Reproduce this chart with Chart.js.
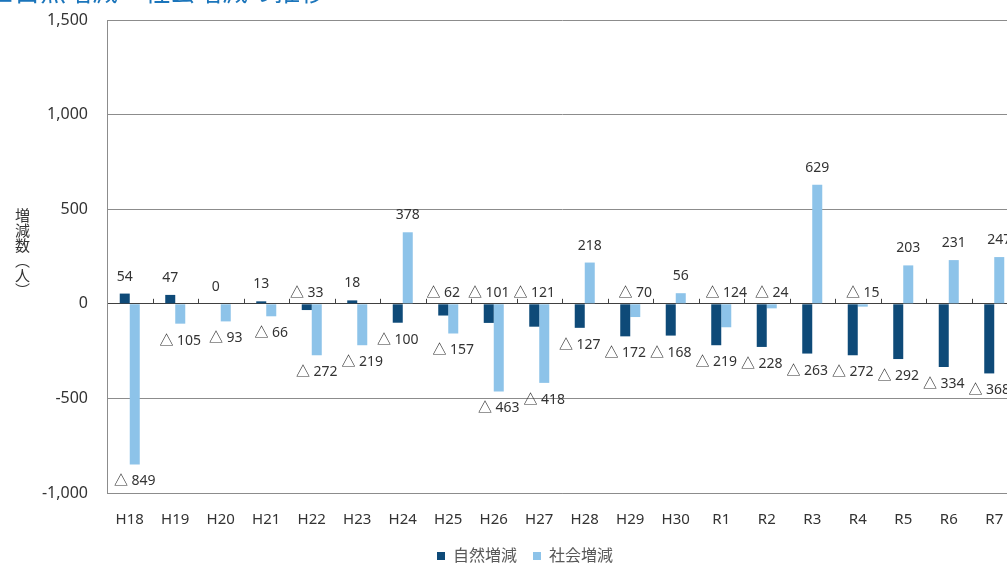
<!DOCTYPE html>
<html>
<head>
<meta charset="utf-8">
<script src="https://cdn.jsdelivr.net/npm/chart.js@4"></script>
<style>
html, body { margin: 0; padding: 0; background: #fff; overflow: hidden; }
#wrap { position: relative; width: 1007px; height: 565px; overflow: hidden; }
#chart { position: absolute; left: 0; top: 0; }
#title { position: absolute; left: -12px; top: -29px; font-size: 26px; font-family: 'Noto Sans CJK JP'; color: #1b75bb; white-space: nowrap; }
#ytitle { position: absolute; left: 12px; top: 208px; writing-mode: vertical-rl; font-size: 15px; font-family: 'Noto Sans CJK JP'; color: #333; }
</style>
</head>
<body>
<div id="wrap">
  <canvas id="chart" width="1050" height="574"></canvas>
  <div id="title">■自然増減・社会増減の推移</div>
  <div id="ytitle">増減数（人）</div>
</div>
<script>
var categories = ['H18', 'H19', 'H20', 'H21', 'H22', 'H23', 'H24', 'H25', 'H26', 'H27',
                  'H28', 'H29', 'H30', 'R1', 'R2', 'R3', 'R4', 'R5', 'R6', 'R7'];
var naturalChange = [54, 47, 0, 13, -33, 18, -100, -62, -101, -121,
                     -127, -172, -168, -219, -228, -263, -272, -292, -334, -368];
var socialChange = [-849, -105, -93, -66, -272, -219, 378, -157, -463, -418,
                    218, -70, 56, -124, -24, 629, -15, 203, 231, 247];
var yTicks = [-1000, -500, 0, 500, 1000, 1500];

// labels that sit just above the zero line instead of at the bar end
var naturalNearAxis = [4, 7, 8, 9];
var socialNearAxis = [11, 13, 14, 16];

var font = "'Noto Sans', 'Noto Sans CJK JP', sans-serif";

var extras = {
    id: 'extras',
    beforeDatasetsDraw: function(chart) {
        var ctx = chart.ctx;
        var x = chart.scales.x, y = chart.scales.y;
        var zeroY = y.getPixelForValue(0);
        var w = x.getPixelForValue(1) - x.getPixelForValue(0);
        ctx.save();
        ctx.strokeStyle = '#404040';
        ctx.lineWidth = 1;
        ctx.beginPath();
        for (var i = 1; i < categories.length; i++) {
            var bx = Math.round(x.getPixelForValue(i) - w / 2) + 0.5;
            ctx.moveTo(bx, zeroY - 5);
            ctx.lineTo(bx, zeroY);
        }
        ctx.stroke();
        ctx.restore();
    },
    afterDatasetsDraw: function(chart) {
        var ctx = chart.ctx;
        var zeroY = chart.scales.y.getPixelForValue(0);
        ctx.save();
        ctx.font = '14px ' + font;
        ctx.fillStyle = '#333';
        ctx.textAlign = 'center';
        ctx.textBaseline = 'middle';
        chart.data.datasets.forEach(function(ds, di) {
            var near = di === 0 ? naturalNearAxis : socialNearAxis;
            chart.getDatasetMeta(di).data.forEach(function(bar, i) {
                var v = ds.data[i];
                var txt = v < 0 ? '△ ' + (-v) : String(v);
                var ty;
                if (near.indexOf(i) >= 0) ty = zeroY - 11;
                else if (v >= 0) ty = bar.y - 17;
                else ty = bar.y + 17;
                ctx.fillText(txt, bar.x, ty);
            });
        });
        ctx.restore();
    }
};

var config = {
    type: 'bar',
    data: {
        labels: categories,
        datasets: [{
            label: '自然増減',
            data: naturalChange,
            backgroundColor: '#0e4a78'
        }, {
            label: '社会増減',
            data: socialChange,
            backgroundColor: '#8dc3e9'
        }]
    },
    options: {
        responsive: false,
        animation: false,
        layout: { padding: { top: 20, right: 0, left: 0, bottom: 0 } },
        datasets: { bar: { categoryPercentage: 0.44, barPercentage: 1 } },
        scales: {
            x: {
                grid: { display: false, drawTicks: false },
                border: { color: '#8c8c8c' },
                ticks: { color: '#333', font: { size: 15, family: font }, padding: 18 },
                afterFit: function(s) { s.height = 39; }
            },
            y: {
                min: -1000, max: 1500,
                afterBuildTicks: function(s) { s.ticks = yTicks.map(function(v) { return { value: v }; }); },
                grid: {
                    drawTicks: false,
                    color: function(c) { return c.tick && c.tick.value === 0 ? '#404040' : '#8c8c8c'; }
                },
                border: { color: '#8c8c8c' },
                ticks: {
                    color: '#333', padding: 19, font: { size: 16, family: font },
                    callback: function(v) { return v.toLocaleString('en-US'); }
                },
                afterFit: function(s) { s.width = 107; s.paddingTop = 0; s.paddingBottom = 0; }
            },
            // blank strip on the right: the original plot runs past the crop
            yRight: {
                position: 'right',
                grid: { display: false, drawTicks: false },
                border: { display: false },
                ticks: { display: false },
                afterFit: function(s) { s.width = 33; s.paddingTop = 0; s.paddingBottom = 0; }
            }
        },
        plugins: {
            legend: {
                position: 'bottom',
                labels: { boxWidth: 8, boxHeight: 8, color: '#595959', padding: 16, font: { size: 16, family: font } }
            },
            tooltip: { enabled: false }
        }
    },
    plugins: [extras]
};

window.onload = function() {
    var ctx = document.getElementById('chart').getContext('2d');
    window.myChart = new Chart(ctx, config);
};
</script>
</body>
</html>
